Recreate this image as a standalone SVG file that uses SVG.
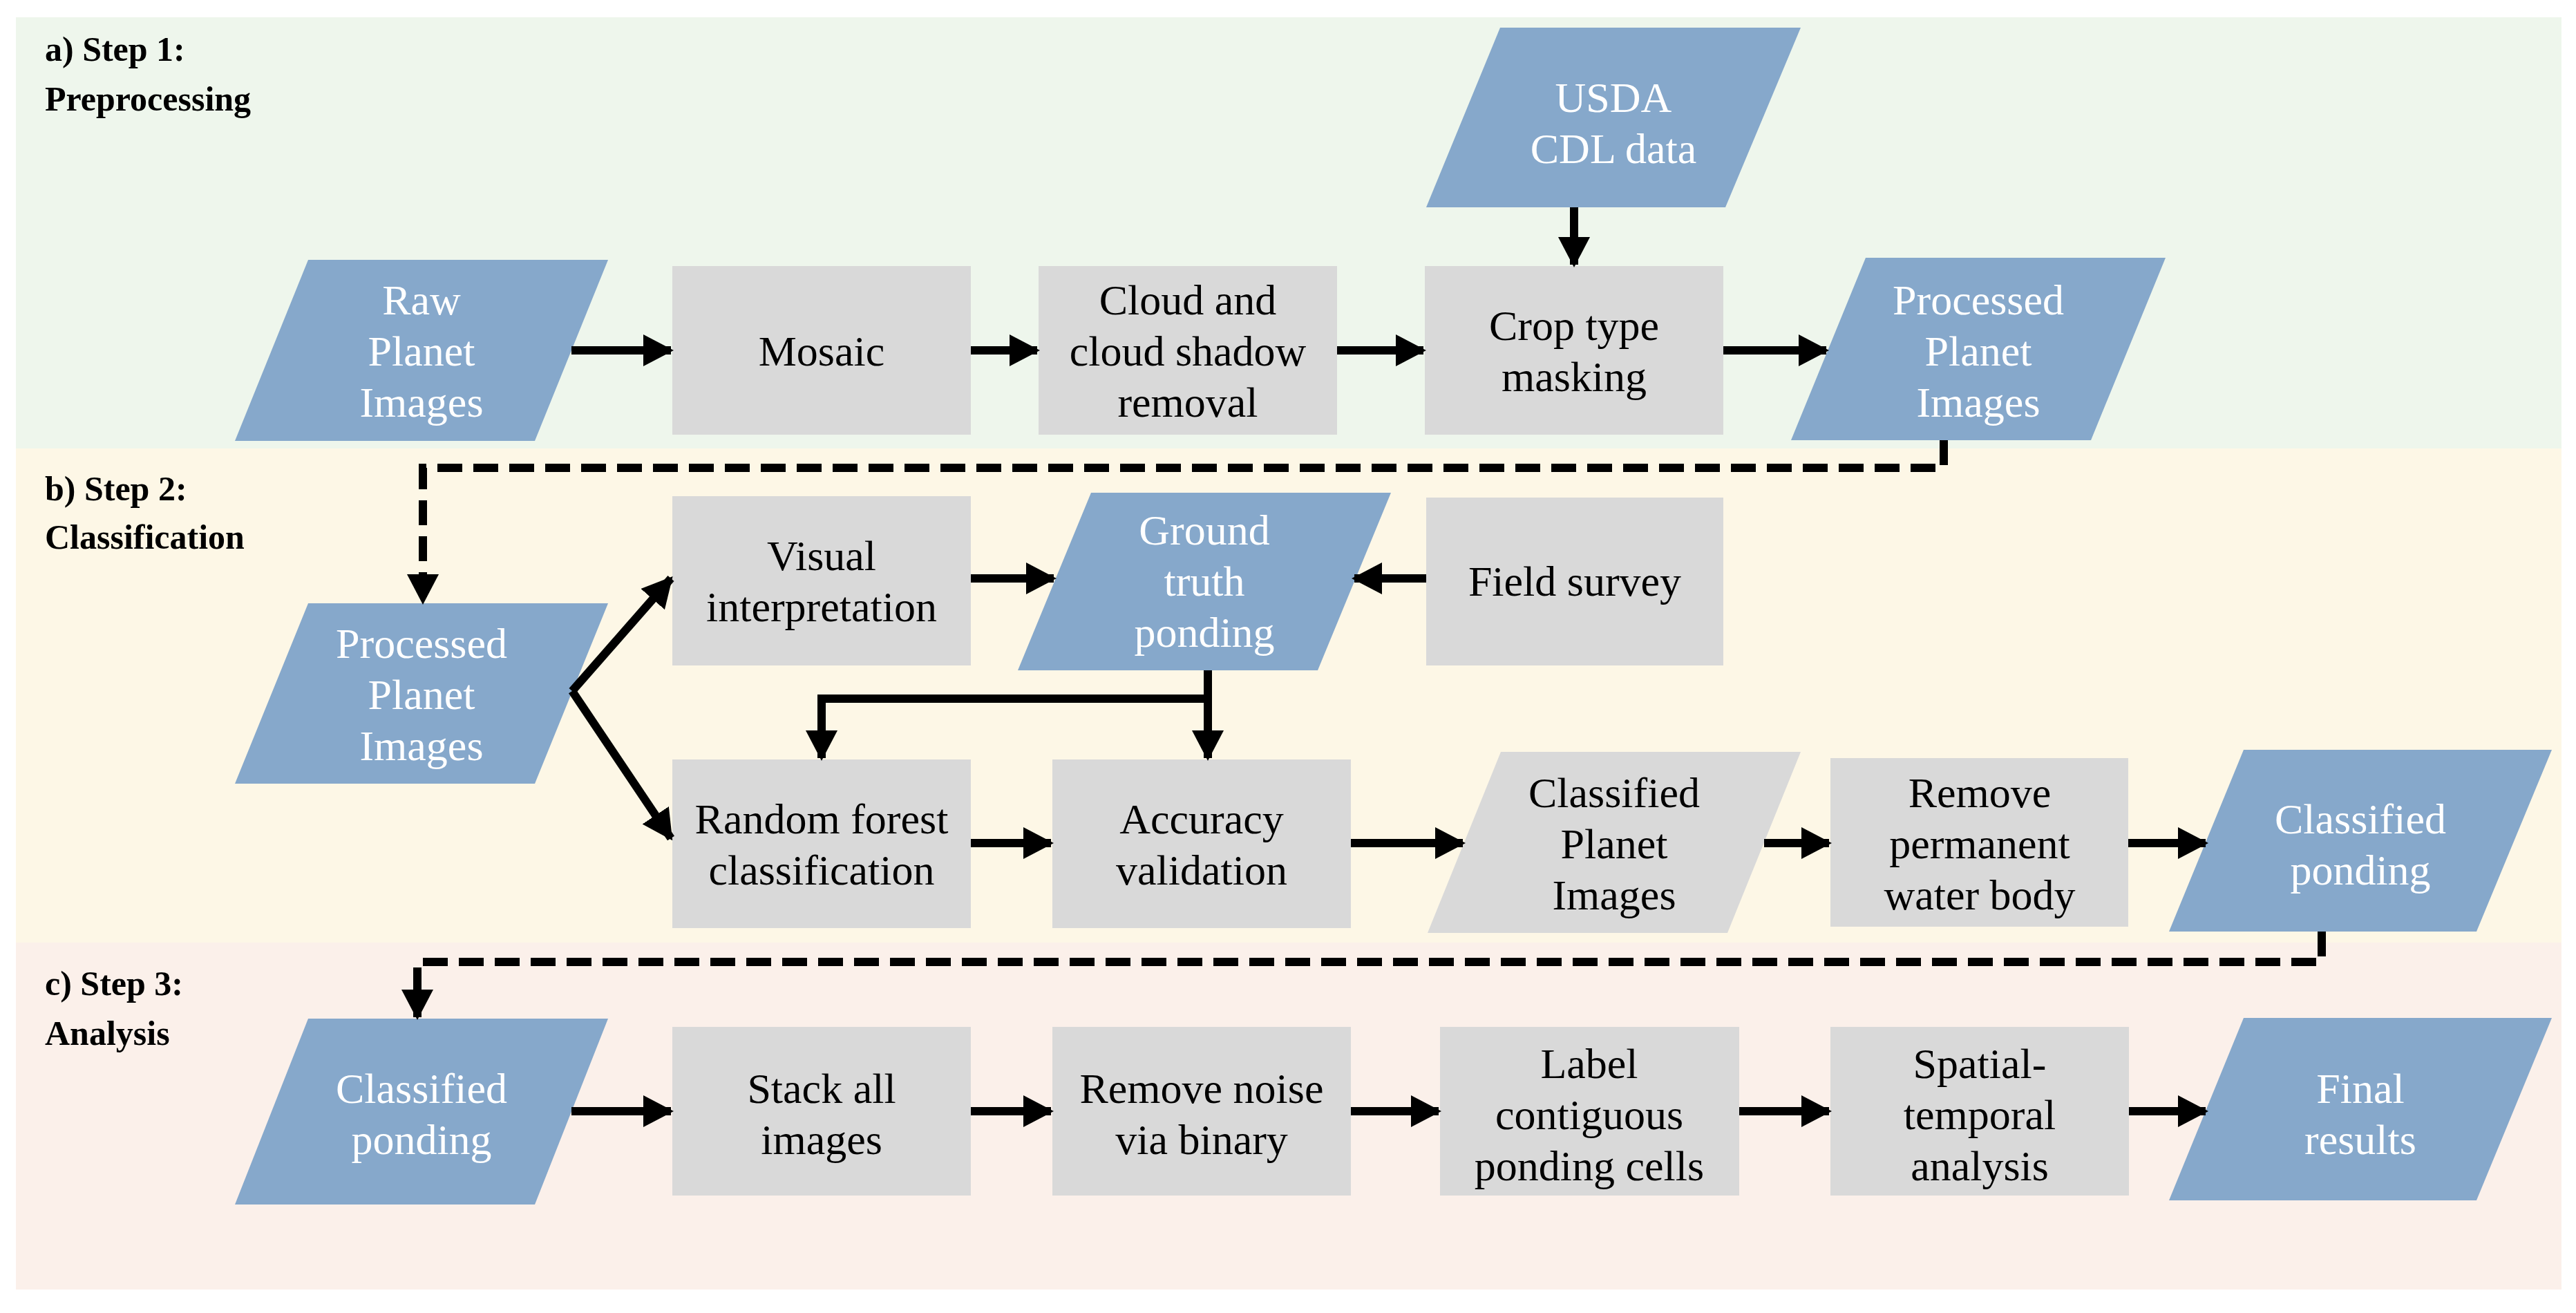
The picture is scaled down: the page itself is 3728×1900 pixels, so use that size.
<svg xmlns="http://www.w3.org/2000/svg" width="3728" height="1900" viewBox="0 0 3728 1900">
<defs>
<marker id="ah" markerUnits="userSpaceOnUse" markerWidth="44" markerHeight="46" refX="40" refY="23" orient="auto"><path d="M0,0 L44,23 L0,46 Z" fill="#000"/></marker>
<style>
.blue{fill:#86a8cb}.gray{fill:#d9d9d9}
text{font-family:"Liberation Serif","Times New Roman",serif;font-size:62px;text-anchor:middle}
.w{fill:#fff}.k{fill:#000}
.h{font-weight:bold;font-size:50px;text-anchor:start}
.c{fill:none;stroke:#000;stroke-width:12;marker-end:url(#ah)}
.d{stroke-dasharray:36,16}
</style>
</defs>
<rect width="3728" height="1900" fill="#fff"/>
<rect x="23" y="25" width="3684" height="624" fill="#eef6ec"/>
<rect x="23" y="649" width="3684" height="715" fill="#fdf7e6"/>
<rect x="23" y="1364" width="3684" height="502" fill="#fbf0ea"/>
<g id="labels">
<text class="h" x="65" y="88">a) Step 1:</text><text class="h" x="65" y="160">Preprocessing</text>
<text class="h" x="65" y="724">b) Step 2:</text><text class="h" x="65" y="794">Classification</text>
<text class="h" x="65" y="1440">c) Step 3:</text><text class="h" x="65" y="1512">Analysis</text>
</g>
<g id="usda"><polygon class="blue" points="2171,40 2606,40 2497,300 2064,300"/><text class="w" x="2335" y="162">USDA</text><text class="w" x="2335" y="236">CDL data</text></g>
<g id="raw"><polygon class="blue" points="446,376 880,376 774,638 340,638"/><text class="w" x="610" y="455">Raw</text><text class="w" x="610" y="529">Planet</text><text class="w" x="610" y="603">Images</text></g>
<g id="mosaic"><rect class="gray" x="973" y="385" width="432" height="244"/><text x="1189" y="529">Mosaic</text></g>
<g id="cloud"><rect class="gray" x="1503" y="385" width="432" height="244"/><text x="1719" y="455">Cloud and</text><text x="1719" y="529">cloud shadow</text><text x="1719" y="603">removal</text></g>
<g id="crop"><rect class="gray" x="2062" y="385" width="432" height="244"/><text x="2278" y="492">Crop type</text><text x="2278" y="566">masking</text></g>
<g id="proc1"><polygon class="blue" points="2700,373 3134,373 3026,637 2592,637"/><text class="w" x="2863" y="455">Processed</text><text class="w" x="2863" y="529">Planet</text><text class="w" x="2863" y="603">Images</text></g>
<g id="proc2"><polygon class="blue" points="446,873 880,873 774,1134 340,1134"/><text class="w" x="610" y="952">Processed</text><text class="w" x="610" y="1026">Planet</text><text class="w" x="610" y="1100">Images</text></g>
<g id="visual"><rect class="gray" x="973" y="718" width="432" height="245"/><text x="1189" y="825">Visual</text><text x="1189" y="899">interpretation</text></g>
<g id="ground"><polygon class="blue" points="1579,713 2013,713 1907,970 1473,970"/><text class="w" x="1743" y="788">Ground</text><text class="w" x="1743" y="862">truth</text><text class="w" x="1743" y="936">ponding</text></g>
<g id="field"><rect class="gray" x="2064" y="720" width="430" height="243"/><text x="2279" y="862">Field survey</text></g>
<g id="rf"><rect class="gray" x="973" y="1099" width="432" height="244"/><text x="1189" y="1206">Random forest</text><text x="1189" y="1280">classification</text></g>
<g id="acc"><rect class="gray" x="1523" y="1099" width="432" height="244"/><text x="1739" y="1206">Accuracy</text><text x="1739" y="1280">validation</text></g>
<g id="cpi"><polygon class="gray" points="2172,1088 2606,1088 2500,1350 2066,1350"/><text x="2336" y="1168">Classified</text><text x="2336" y="1242">Planet</text><text x="2336" y="1316">Images</text></g>
<g id="rpw"><rect class="gray" x="2649" y="1097" width="431" height="244"/><text x="2865" y="1168">Remove</text><text x="2865" y="1242">permanent</text><text x="2865" y="1316">water body</text></g>
<g id="cp1"><polygon class="blue" points="3247,1085 3693,1085 3584,1348 3139,1348"/><text class="w" x="3416" y="1206">Classified</text><text class="w" x="3416" y="1280">ponding</text></g>
<g id="cp2"><polygon class="blue" points="446,1474 880,1474 774,1743 340,1743"/><text class="w" x="610" y="1596">Classified</text><text class="w" x="610" y="1670">ponding</text></g>
<g id="stack"><rect class="gray" x="973" y="1486" width="432" height="244"/><text x="1189" y="1596">Stack all</text><text x="1189" y="1670">images</text></g>
<g id="noise"><rect class="gray" x="1523" y="1486" width="432" height="244"/><text x="1739" y="1596">Remove noise</text><text x="1739" y="1670">via binary</text><text x="1739" y="1744" display="none"></text></g>
<g id="label"><rect class="gray" x="2084" y="1486" width="433" height="244"/><text x="2300" y="1560">Label</text><text x="2300" y="1634">contiguous</text><text x="2300" y="1708">ponding cells</text></g>
<g id="spatial"><rect class="gray" x="2649" y="1486" width="432" height="244"/><text x="2865" y="1560">Spatial-</text><text x="2865" y="1634">temporal</text><text x="2865" y="1708">analysis</text></g>
<g id="final"><polygon class="blue" points="3247,1473 3693,1473 3584,1737 3139,1737"/><text class="w" x="3416" y="1596">Final</text><text class="w" x="3416" y="1670">results</text></g>
<g id="connectors">
<path class="c" d="M2278,300 V383"/>
<path class="c" d="M827,507 H971"/>
<path class="c" d="M1405,507 H1501"/>
<path class="c" d="M1935,507 H2060"/>
<path class="c" d="M2494,507 H2643"/>
<path class="c d" d="M2813,637 V677 H612 V871"/>
<path class="c" d="M828,1000 L971,837"/>
<path class="c" d="M828,1000 L971,1213"/>
<path class="c" d="M1405,837 H1525"/>
<path class="c" d="M2064,837 H1960"/>
<path class="c" d="M1748,970 V1097"/>
<path class="c" d="M1748,1011 H1189 V1097"/>
<path class="c" d="M1405,1220 H1521"/>
<path class="c" d="M1955,1220 H2117"/>
<path class="c" d="M2553,1220 H2647"/>
<path class="c" d="M3080,1220 H3192"/>
<path class="c d" d="M3360,1348 V1392 H604 V1472"/>
<path class="c" d="M827,1608 H971"/>
<path class="c" d="M1405,1608 H1521"/>
<path class="c" d="M1955,1608 H2082"/>
<path class="c" d="M2517,1608 H2647"/>
<path class="c" d="M3081,1608 H3192"/>
</g>
</svg>
